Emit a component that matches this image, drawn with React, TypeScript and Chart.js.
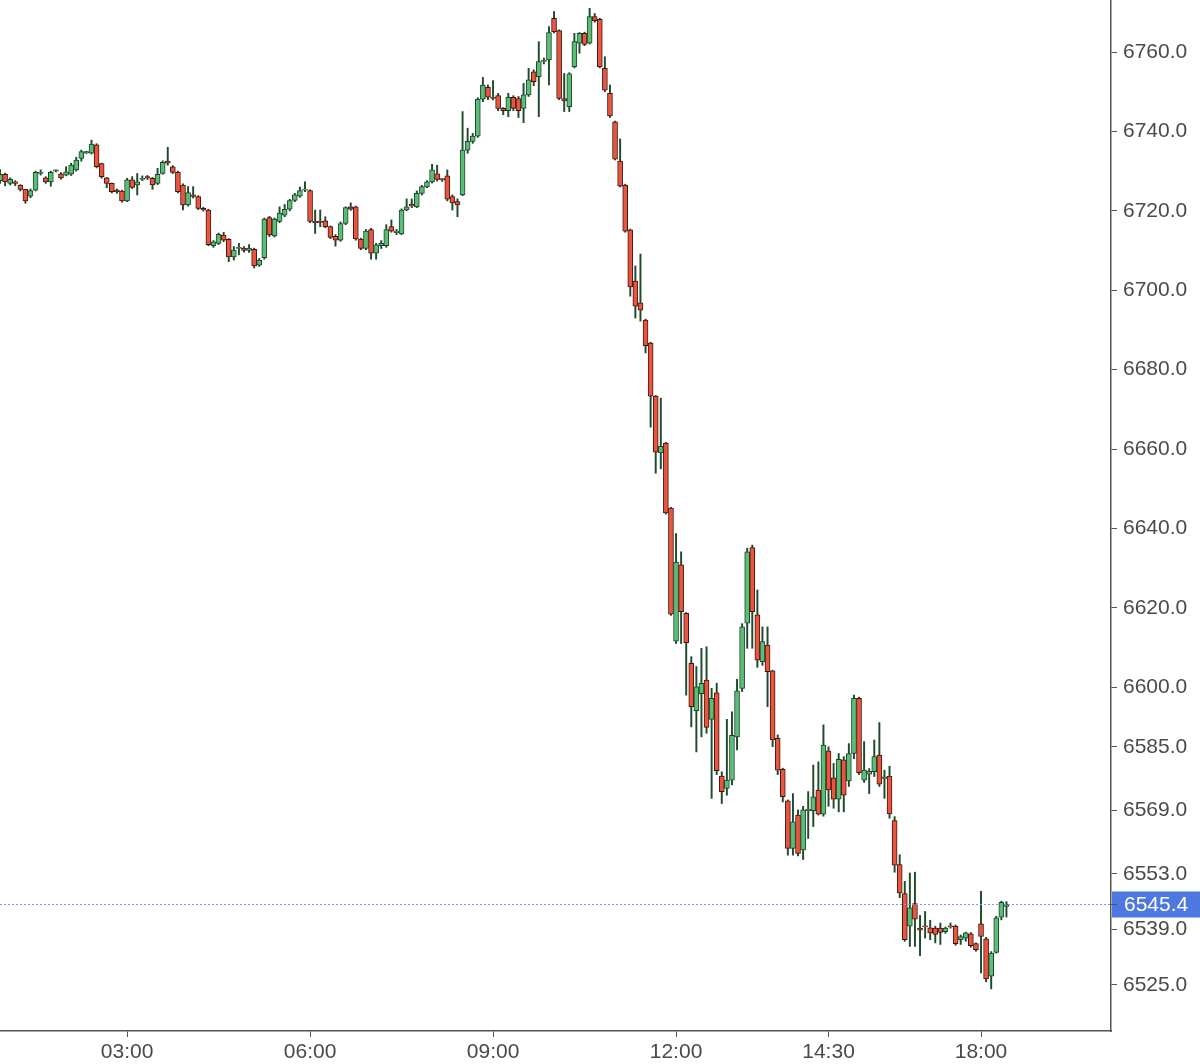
import React, { useEffect, useRef } from 'react';
import { Chart, registerables } from 'chart.js';

Chart.register(...registerables);

// 5-minute candles, 00:55 .. 16:55 then 18:00 .. 18:25
const opens = [
  6727.6, 6729.2, 6726.9, 6727.3, 6726.5, 6725.4, 6723.7, 6725.2, 6729.4, 6728.3,
  6727.3, 6730.0, 6729.3, 6729.0, 6729.2, 6730.3, 6733.2, 6734.6, 6734.5, 6736.6,
  6731.9, 6728.3, 6726.9, 6725.2, 6725.0, 6722.5, 6727.8, 6726.5, 6727.9, 6728.6,
  6728.2, 6726.9, 6729.4, 6732.5, 6731.1, 6729.7, 6726.5, 6721.5, 6724.0, 6723.6,
  6720.6, 6720.2, 6711.2, 6711.8, 6713.9, 6712.8, 6708.4, 6710.5, 6710.6, 6710.0,
  6710.3, 6706.3, 6708.2, 6718.3, 6713.7, 6717.3, 6718.9, 6720.4, 6722.6, 6723.7,
  6725.2, 6725.1, 6717.4, 6717.3, 6717.5, 6716.0, 6713.6, 6712.6, 6716.8, 6721.0,
  6721.0, 6712.9, 6710.5, 6715.3, 6709.3, 6711.2, 6711.2, 6716.0, 6714.5, 6714.2,
  6720.2, 6721.7, 6721.0, 6724.4, 6726.0, 6727.3, 6729.3, 6727.9, 6728.8, 6723.6,
  6722.3, 6724.0, 6735.3, 6737.5, 6738.8, 6748.1, 6751.1, 6748.6, 6749.0, 6745.8,
  6745.2, 6748.6, 6748.3, 6745.8, 6749.2, 6755.0, 6753.8, 6757.6, 6758.0, 6768.5,
  6765.4, 6748.3, 6746.2, 6756.3, 6762.2, 6764.7, 6762.2, 6768.9, 6768.2, 6755.9,
  6749.6, 6742.4, 6732.5, 6726.5, 6715.2, 6702.3, 6696.8, 6692.5, 6686.7, 6673.3,
  6659.0, 6661.5, 6645.1, 6611.6, 6630.8, 6618.6, 6606.0, 6594.1, 6598.4, 6601.8,
  6591.9, 6598.6, 6577.6, 6574.5, 6576.6, 6587.5, 6599.7, 6616.1, 6635.2, 6618.2,
  6606.4, 6610.6, 6604.1, 6587.1, 6579.3, 6571.4, 6559.4, 6567.8, 6559.0, 6568.9,
  6568.9, 6574.1, 6568.0, 6584.0, 6577.2, 6571.8, 6581.7, 6576.4, 6583.3, 6597.2,
  6576.6, 6578.1, 6578.7, 6582.9, 6577.0, 6577.6, 6566.4, 6555.3, 6548.0, 6539.8,
  6545.5, 6539.3, 6539.8, 6539.4, 6539.3, 6539.3, 6538.4, 6539.9, 6539.8, 6536.4,
  6536.8, 6537.9, 6535.4, 6540.4, 6536.6, 6527.2, 6533.2, 6542.1, 6544.8,
];
const highs = [
  6730.4, 6729.5, 6728.3, 6727.6, 6726.6, 6725.4, 6725.5, 6730.0, 6730.3, 6728.6,
  6730.0, 6730.3, 6729.6, 6731.1, 6732.0, 6733.5, 6735.3, 6735.0, 6737.8, 6736.9,
  6732.0, 6728.4, 6727.0, 6725.5, 6725.2, 6728.2, 6728.6, 6729.4, 6728.8, 6728.9,
  6728.4, 6730.7, 6732.6, 6736.0, 6731.4, 6730.0, 6726.8, 6726.1, 6726.1, 6723.8,
  6720.9, 6720.4, 6712.5, 6714.4, 6714.6, 6713.0, 6711.0, 6711.8, 6711.0, 6711.5,
  6710.6, 6708.0, 6718.2, 6718.6, 6718.2, 6721.0, 6721.6, 6722.9, 6724.4, 6726.0,
  6727.3, 6725.3, 6720.2, 6720.2, 6718.5, 6716.2, 6714.0, 6717.2, 6721.0, 6722.0,
  6721.2, 6713.1, 6715.3, 6715.6, 6711.8, 6712.5, 6716.5, 6717.7, 6715.3, 6720.5,
  6723.0, 6723.0, 6725.0, 6726.4, 6727.6, 6731.7, 6731.5, 6728.0, 6730.3, 6724.0,
  6723.0, 6745.0, 6740.8, 6739.5, 6748.5, 6753.6, 6751.7, 6752.8, 6749.6, 6746.0,
  6749.6, 6749.0, 6748.8, 6752.1, 6755.9, 6755.5, 6762.6, 6758.5, 6766.4, 6770.2,
  6765.6, 6754.6, 6754.8, 6764.7, 6764.9, 6765.0, 6771.0, 6769.7, 6768.5, 6758.8,
  6751.7, 6742.6, 6738.1, 6726.7, 6715.4, 6706.1, 6709.1, 6692.7, 6686.9, 6673.5,
  6672.8, 6661.7, 6645.3, 6638.7, 6634.1, 6618.8, 6607.7, 6605.2, 6609.8, 6610.2,
  6599.7, 6601.0, 6578.7, 6591.9, 6593.8, 6602.0, 6616.0, 6635.0, 6635.8, 6624.5,
  6615.2, 6615.2, 6604.3, 6588.0, 6579.6, 6571.6, 6573.2, 6569.1, 6570.0, 6573.7,
  6580.4, 6581.2, 6590.5, 6585.0, 6580.8, 6583.3, 6582.5, 6585.8, 6598.0, 6597.5,
  6586.3, 6579.5, 6586.7, 6591.1, 6579.1, 6580.1, 6567.4, 6557.8, 6551.1, 6553.2,
  6553.4, 6542.5, 6543.5, 6541.3, 6539.8, 6540.6, 6539.6, 6540.6, 6540.1, 6537.6,
  6538.3, 6538.2, 6535.6, 6548.6, 6537.0, 6533.4, 6542.3, 6546.1, 6546.0,
];
const lows = [
  6726.9, 6726.3, 6726.5, 6726.3, 6725.0, 6721.9, 6723.3, 6725.0, 6729.0, 6726.9,
  6726.2, 6729.8, 6728.0, 6728.8, 6728.9, 6730.0, 6732.5, 6734.4, 6734.3, 6730.8,
  6728.2, 6725.8, 6724.5, 6724.4, 6722.2, 6722.3, 6725.6, 6724.0, 6727.6, 6727.9,
  6725.4, 6726.6, 6729.2, 6731.5, 6729.4, 6724.5, 6720.2, 6721.2, 6723.2, 6720.3,
  6719.9, 6711.2, 6710.8, 6711.5, 6712.2, 6707.2, 6707.6, 6708.9, 6709.6, 6709.5,
  6705.6, 6706.0, 6707.8, 6713.5, 6713.4, 6717.0, 6718.5, 6720.0, 6722.3, 6723.4,
  6724.8, 6717.0, 6714.3, 6716.0, 6715.7, 6713.0, 6711.1, 6712.3, 6716.5, 6720.1,
  6712.6, 6710.2, 6710.2, 6707.8, 6707.8, 6710.5, 6710.8, 6714.6, 6714.0, 6714.0,
  6720.0, 6720.8, 6720.8, 6724.0, 6725.8, 6727.0, 6727.5, 6727.4, 6722.5, 6720.2,
  6718.5, 6723.8, 6734.5, 6737.0, 6738.5, 6747.5, 6748.0, 6747.9, 6745.2, 6744.2,
  6743.7, 6745.2, 6743.5, 6742.2, 6748.8, 6751.5, 6743.7, 6757.0, 6751.7, 6764.8,
  6748.0, 6745.0, 6745.0, 6756.0, 6759.7, 6761.6, 6762.0, 6767.5, 6756.0, 6750.0,
  6743.5, 6732.8, 6726.0, 6714.6, 6698.5, 6693.0, 6692.2, 6684.2, 6665.5, 6653.9,
  6655.0, 6643.6, 6618.1, 6611.0, 6611.0, 6598.0, 6590.0, 6583.7, 6587.5, 6588.4,
  6572.0, 6578.0, 6570.7, 6572.8, 6575.4, 6584.2, 6598.9, 6609.8, 6609.8, 6605.0,
  6605.5, 6595.1, 6585.0, 6578.0, 6571.1, 6557.7, 6557.7, 6557.5, 6556.6, 6561.9,
  6564.9, 6567.8, 6567.5, 6570.0, 6569.5, 6568.6, 6568.6, 6575.0, 6582.0, 6578.0,
  6576.0, 6573.2, 6577.5, 6575.0, 6572.0, 6567.0, 6553.4, 6547.0, 6536.0, 6534.7,
  6534.7, 6532.4, 6536.8, 6536.4, 6535.6, 6535.2, 6538.0, 6539.3, 6535.0, 6535.2,
  6536.0, 6534.5, 6533.5, 6528.0, 6525.8, 6524.0, 6533.0, 6541.4, 6542.1,
];
const closes = [
  6729.2, 6727.3, 6727.9, 6726.9, 6725.4, 6722.5, 6725.1, 6729.7, 6729.7, 6727.3,
  6729.7, 6730.1, 6728.3, 6729.8, 6731.5, 6732.8, 6734.9, 6734.7, 6736.8, 6731.1,
  6728.6, 6726.9, 6724.8, 6724.8, 6722.5, 6727.8, 6725.9, 6727.3, 6728.2, 6728.2,
  6726.5, 6729.2, 6732.2, 6732.0, 6729.7, 6724.8, 6721.5, 6724.6, 6723.6, 6720.6,
  6720.2, 6711.5, 6712.2, 6714.1, 6712.6, 6708.4, 6710.1, 6710.6, 6710.0, 6710.6,
  6706.1, 6707.6, 6717.9, 6713.9, 6717.9, 6719.4, 6720.4, 6722.6, 6724.0, 6725.1,
  6725.3, 6717.3, 6717.0, 6717.1, 6716.0, 6713.3, 6712.6, 6716.8, 6720.8, 6720.4,
  6712.9, 6710.5, 6714.9, 6709.3, 6711.4, 6711.8, 6715.3, 6714.9, 6714.9, 6720.2,
  6721.0, 6721.2, 6724.4, 6726.1, 6727.3, 6730.3, 6727.9, 6727.8, 6722.9, 6722.0,
  6721.5, 6735.3, 6737.5, 6738.8, 6748.1, 6751.7, 6748.6, 6748.3, 6745.8, 6745.2,
  6748.6, 6745.8, 6745.2, 6749.2, 6753.0, 6752.5, 6757.6, 6757.8, 6764.9, 6765.1,
  6748.3, 6747.7, 6754.5, 6762.6, 6764.7, 6761.9, 6768.9, 6767.9, 6756.3, 6750.4,
  6743.9, 6733.0, 6726.2, 6714.9, 6700.8, 6696.0, 6695.0, 6686.0, 6673.3, 6659.2,
  6660.7, 6643.9, 6618.4, 6631.5, 6619.0, 6611.2, 6595.1, 6600.1, 6601.0, 6589.9,
  6597.2, 6579.0, 6573.7, 6576.6, 6587.9, 6599.1, 6615.2, 6634.1, 6619.0, 6606.8,
  6611.5, 6603.9, 6586.7, 6579.1, 6572.4, 6559.4, 6566.1, 6558.1, 6569.1, 6569.3,
  6572.4, 6568.0, 6585.4, 6574.1, 6571.8, 6581.8, 6572.8, 6583.3, 6597.2, 6578.5,
  6579.1, 6578.8, 6582.5, 6575.6, 6577.4, 6568.1, 6555.2, 6548.2, 6536.4, 6544.4,
  6541.6, 6538.8, 6539.6, 6538.1, 6537.7, 6538.2, 6539.3, 6539.6, 6535.4, 6537.2,
  6538.1, 6534.9, 6533.9, 6537.2, 6526.5, 6533.0, 6541.9, 6545.8, 6545.4,
];

const lastPrice = 6545.4;
const yTickValues = [6525, 6539, 6553, 6569, 6585, 6600, 6620, 6640, 6660, 6680, 6700, 6720, 6740, 6760];
const xTickLabels = ['03:00', '06:00', '09:00', '12:00', '14:30', '18:00'];
// trading sessions in minutes of day (the 17:00-18:00 break is skipped)
const sessions: [number, number][] = [[55, 16 * 60 + 55], [18 * 60, 18 * 60 + 25]];

const pad = (n: number) => (n < 10 ? '0' + n : '' + n);
const times: string[] = [];
sessions.forEach(([a, b]) => {
  for (let m = a; m <= b; m += 5) times.push(pad(Math.floor(m / 60)) + ':' + pad(m % 60));
});

const FONT = "'Liberation Sans', Arial, Helvetica, sans-serif";
const UP_FILL = '#5cbd79';
const UP_EDGE = '#1c4529';
const DN_FILL = '#e9553f';
const DN_EDGE = '#421510';
const WICK = '#1f4b2d';
const AXIS = '#555555';
const TEXT = '#4a4a4a';

export default function App() {
  const ref = useRef<HTMLCanvasElement | null>(null);

  useEffect(() => {
    if (!ref.current) return;
    const n = closes.length;
    const wickData = [] as any[];
    const bodyData = [] as any[];
    const fills: string[] = [];
    const edges: string[] = [];
    for (let i = 0; i < n; i++) {
      wickData.push({ x: i, y: [lows[i], highs[i]] });
      const lo = Math.min(opens[i], closes[i]);
      const hi = Math.max(opens[i], closes[i]);
      bodyData.push({ x: i, y: [lo, Math.max(hi, lo + 0.3)] });
      const up = closes[i] >= opens[i];
      fills.push(up ? UP_FILL : DN_FILL);
      edges.push(up ? UP_EDGE : DN_EDGE);
    }
    const tickIdx = xTickLabels.map((l) => times.indexOf(l));
    const pxPerCandle = 5.083;
    const plotWidth = 1111;

    const priceLine = {
      id: 'priceLine',
      afterDraw(chart: any) {
        const { ctx, chartArea } = chart;
        const y = Math.round(chart.scales.y.getPixelForValue(lastPrice)) + 0.5;
        ctx.save();
        ctx.strokeStyle = '#7b98ee';
        ctx.lineWidth = 1;
        ctx.setLineDash([2, 2]);
        ctx.beginPath();
        ctx.moveTo(chartArea.left, y);
        ctx.lineTo(chartArea.right, y);
        ctx.stroke();
        ctx.setLineDash([]);
        ctx.fillStyle = '#4d78e0';
        ctx.fillRect(chartArea.right + 1, y - 13, 1200 - chartArea.right - 1, 26);
        ctx.strokeStyle = AXIS;
        ctx.beginPath();
        ctx.moveTo(chartArea.right, y);
        ctx.lineTo(chartArea.right + 6, y);
        ctx.stroke();
        ctx.fillStyle = '#ffffff';
        ctx.font = `21px ${FONT}`;
        ctx.textBaseline = 'middle';
        ctx.textAlign = 'left';
        ctx.fillText(lastPrice.toFixed(1), chartArea.right + 13, y + 1);
        ctx.restore();
      },
    };

    const chart = new Chart(ref.current, {
      type: 'bar',
      data: {
        datasets: [
          {
            label: 'wick',
            data: wickData,
            backgroundColor: WICK,
            borderWidth: 0,
            barThickness: 1.3,
            grouped: false,
            order: 2,
          } as any,
          {
            label: 'body',
            data: bodyData,
            backgroundColor: fills,
            borderColor: edges,
            borderWidth: 1,
            borderSkipped: false,
            barThickness: 5,
            grouped: false,
            order: 1,
          } as any,
        ],
      },
      plugins: [priceLine],
      options: {
        animation: false,
        responsive: false,
        devicePixelRatio: 1,
        layout: { padding: 0 },
        plugins: { legend: { display: false }, tooltip: { enabled: false } },
        scales: {
          x: {
            type: 'linear',
            offset: false,
            min: 0,
            max: plotWidth / pxPerCandle,
            grid: { display: true, drawOnChartArea: false, drawTicks: true, tickLength: 6, color: AXIS, offset: false },
            border: { display: true, color: AXIS, width: 1.5 },
            afterBuildTicks: (scale: any) => {
              scale.ticks = tickIdx.map((v) => ({ value: v }));
            },
            afterFit: (scale: any) => {
              scale.height = 33;
              scale.paddingLeft = 0;
              scale.paddingRight = 0;
            },
            ticks: {
              autoSkip: false,
              maxRotation: 0,
              padding: 3,
              color: TEXT,
              font: { size: 21, family: FONT },
              callback: (v: any) => times[v as number] ?? '',
            },
          },
          y: {
            type: 'linear',
            position: 'right',
            min: 6513.4,
            max: 6773.1,
            grid: { display: true, drawOnChartArea: false, drawTicks: true, tickLength: 6, color: AXIS },
            border: { display: true, color: AXIS, width: 1.5 },
            afterBuildTicks: (scale: any) => {
              scale.ticks = yTickValues.map((v) => ({ value: v }));
            },
            afterFit: (scale: any) => {
              scale.width = 89;
              scale.paddingTop = 0;
              scale.paddingBottom = 0;
            },
            ticks: {
              autoSkip: false,
              padding: 6,
              color: TEXT,
              font: { size: 21, family: FONT },
              callback: (v: any) => Number(v).toFixed(1),
            },
          },
        },
      } as any,
    });
    return () => chart.destroy();
  }, []);

  return (
    <div style={{ position: 'absolute', left: 0, top: 0, width: 1200, height: 1064, background: '#fff' }}>
      <canvas ref={ref} width={1200} height={1064} style={{ display: 'block', width: 1200, height: 1064 }} />
    </div>
  );
}
